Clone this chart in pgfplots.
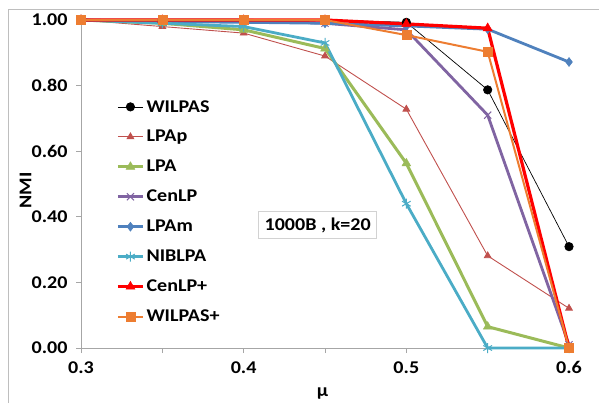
\documentclass[border=0pt]{standalone}
\usepackage{pgfplots}
\pgfplotsset{compat=1.18}
\usepackage{fontspec}
\setmainfont{Carlito}[FakeStretch=1.12]
\definecolor{cLPAp}{HTML}{C0504D}
\definecolor{cLPA}{HTML}{9BBB59}
\definecolor{cCen}{HTML}{8064A2}
\definecolor{cLPAm}{HTML}{4F81BD}
\definecolor{cNIB}{HTML}{4BACC6}
\definecolor{cOra}{HTML}{ED7D31}
\definecolor{frame}{HTML}{BEBEBE}
\begin{document}
\begin{tikzpicture}[x=1bp,y=1bp]
\useasboundingbox (0,0) rectangle (599,403);
\draw[frame,line width=0.8bp] (8,0) -- (8,394) -- (599,394);
\begin{axis}[
  at={(81bp,55bp)}, anchor=south west,
  scale only axis, width=488bp, height=328bp,
  xmin=0.3, xmax=0.6, ymin=0, ymax=1,
  axis x line=bottom, axis y line=left,
  axis line style={draw=gray!70, line width=0.8bp, -},
  tick align=outside, major tick length=5bp,
  tick style={draw=gray!70, line width=0.8bp},
  xtick={0.3,0.35,0.4,0.45,0.5,0.55,0.6},
  xticklabels={0.3,,0.4,,0.5,,0.6},
  ytick={0,0.2,0.4,0.6,0.8,1},
  /pgf/number format/fixed,
  /pgf/number format/fixed zerofill,
  /pgf/number format/precision=2,
  /pgf/number format/assume math mode=true,
  ticklabel style={font=\fontsize{18}{21}\selectfont\bfseries},
  xticklabel style={yshift=-5bp},
  yticklabel style={xshift=-5bp},
  xlabel={μ}, ylabel={NMI},
  label style={font=\fontsize{18}{21}\selectfont\bfseries},
  xlabel style={at={(axis description cs:0.495,0)}, anchor=north, yshift=-36bp},
  ylabel style={at={(axis description cs:0,0.48)}, anchor=south, yshift=46bp},
  clip=false,
  legend style={at={(0.072,0.762)}, anchor=north west, draw=none, fill=none,
    font=\fontsize{18}{21}\selectfont\bfseries, row sep=12.8bp, inner sep=0pt,
    cells={anchor=west}},
  legend image code/.code={\draw[mark repeat=2,mark phase=2] plot coordinates {(0bp,0bp) (12.5bp,0bp) (25bp,0bp)};},
]
\addplot[black, line width=0.7bp, mark=*, mark size=4.2bp, mark options={solid}] coordinates {
(0.3,1.0) (0.35,1.0) (0.4,1.0) (0.45,1.0) (0.5,0.993) (0.55,0.787) (0.6,0.309)};
\addlegendentry{WILPAS}
\addplot[cLPAp, line width=0.9bp, mark=triangle*, mark size=3.8bp] coordinates {
(0.3,1.0) (0.35,0.98) (0.4,0.96) (0.45,0.89) (0.5,0.728) (0.55,0.281) (0.6,0.121)};
\addlegendentry{LPAp}
\addplot[cLPA, line width=3bp, mark=triangle*, mark size=5bp, mark options={line width=0.5bp}] coordinates {
(0.3,1.0) (0.35,0.99) (0.4,0.97) (0.45,0.913) (0.5,0.563) (0.55,0.065) (0.6,0.0)};
\addlegendentry{LPA}
\addplot[cCen, line width=2.8bp, mark=x, mark size=5bp, mark options={line width=1bp}] coordinates {
(0.3,1.0) (0.35,1.0) (0.4,1.0) (0.45,0.99) (0.5,0.97) (0.55,0.71) (0.6,0.01)};
\addlegendentry{CenLP}
\addplot[cLPAm, line width=2.8bp, mark=diamond*, mark size=4.5bp, mark options={line width=0.5bp}] coordinates {
(0.3,1.0) (0.35,0.995) (0.4,0.993) (0.45,0.99) (0.5,0.982) (0.55,0.972) (0.6,0.872)};
\addlegendentry{LPAm}
\addplot[cNIB, line width=2.8bp, mark=asterisk, mark size=5bp, mark options={line width=1bp}] coordinates {
(0.3,1.0) (0.35,0.99) (0.4,0.98) (0.45,0.93) (0.5,0.44) (0.55,0.0) (0.6,0.0)};
\addlegendentry{NIBLPA}
\addplot[red, line width=3.2bp, mark=triangle*, mark size=5.2bp, mark options={line width=0.5bp}] coordinates {
(0.3,1.0) (0.35,1.0) (0.4,1.0) (0.45,1.0) (0.5,0.988) (0.55,0.975) (0.6,0.0)};
\addlegendentry{CenLP+}
\addplot[cOra, line width=2bp, mark=square*, mark size=4.5bp, mark options={line width=0.5bp}] coordinates {
(0.3,1.0) (0.35,1.0) (0.4,1.0) (0.45,1.0) (0.5,0.954) (0.55,0.903) (0.6,0.0)};
\addlegendentry{WILPAS+}
\node[draw=gray!35, line width=0.8bp, fill=white, inner xsep=6bp, inner ysep=6bp,
  font=\fontsize{18}{21}\selectfont\bfseries] at (axis cs:0.4455,0.375) {1000B , k=20};
\end{axis}
\end{tikzpicture}
\end{document}
